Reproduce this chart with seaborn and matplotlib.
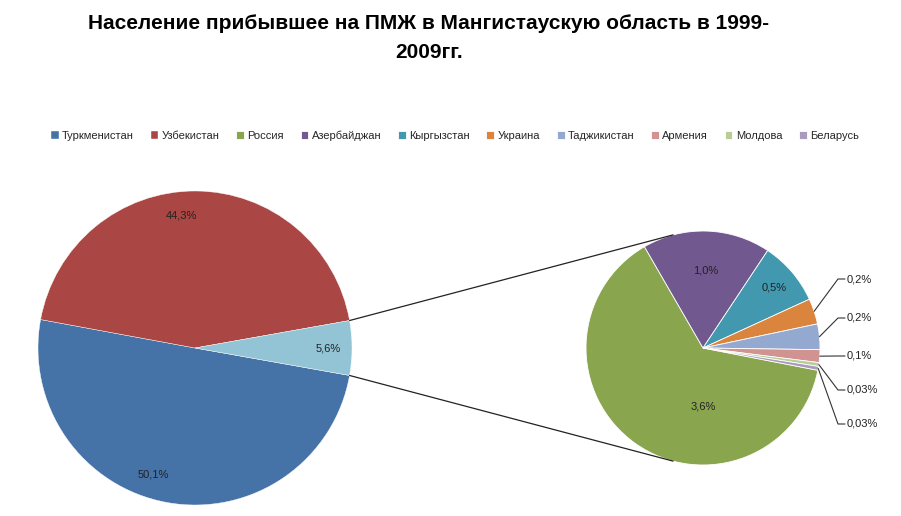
import numpy as np
import matplotlib
matplotlib.use("Agg")
import matplotlib.pyplot as plt
import seaborn as sns

# data
main_labels = ["Туркменистан", "Узбекистан", "Другие"]
main_values = [50.1, 44.3, 5.6]
sub_labels = ["Россия", "Азербайджан", "Кыргызстан", "Украина", "Таджикистан",
              "Армения", "Молдова", "Беларусь"]
sub_values = [3.6, 1.0, 0.5, 0.2, 0.2, 0.1, 0.03, 0.03]

main_colors = ["#4572A7", "#AA4643", "#93C4D6"]
sub_colors = ["#89A54E", "#71588F", "#4198AF", "#DB843D", "#93A9CF",
              "#D19392", "#B9CD96", "#A99BBD"]

title = "Население прибывшее на ПМЖ в Мангистаускую область в 1999-\n2009гг."

sns.set_theme(style="white")
plt.rcParams["font.family"] = ["Liberation Sans", "DejaVu Sans"]

W, H = 901, 516
fig = plt.figure(figsize=(W / 100, H / 100), dpi=100)
ax = fig.add_axes([0, 0, 1, 1])

# layout in pixel units (y measured upward)
c1, r1 = (195, H - 348), 157
c2, r2 = (703, H - 348), 117


def fmt(v):
    return (f"{v:.2f}" if v < 0.1 else f"{v:.1f}").replace(".", ",") + "%"


# main pie, "other" slice centred on the right
start1 = -main_values[2] / sum(main_values) * 360 / 2
w1, _ = ax.pie(main_values, colors=main_colors, center=c1, radius=r1,
               startangle=start1, counterclock=False, frame=True,
               wedgeprops=dict(edgecolor="white", linewidth=0.3))
main_shift = [-8, 6, 0]  # Excel nudges these labels a little
for w, v, s in zip(w1, main_values, main_shift):
    a = np.deg2rad((w.theta1 + w.theta2) / 2 + s)
    ax.text(c1[0] + 0.85 * r1 * np.cos(a), c1[1] + 0.85 * r1 * np.sin(a), fmt(v),
            ha="center", va="center", fontsize=8, color="#222222")

# secondary pie
w2, _ = ax.pie(sub_values, colors=sub_colors, center=c2, radius=r2,
               startangle=-11, counterclock=False, frame=True,
               wedgeprops=dict(edgecolor="white", linewidth=0.6))

inner_dist = [0.5, 0.66, 0.8]
label_y = [279, 318, 356, 390, 424]
for i, (w, v) in enumerate(zip(w2, sub_values)):
    a = np.deg2rad((w.theta1 + w.theta2) / 2)
    if i < len(inner_dist):
        d = inner_dist[i]
        if i == 0:
            a = np.deg2rad(-90)
        ax.text(c2[0] + d * r2 * np.cos(a), c2[1] + d * r2 * np.sin(a), fmt(v),
                ha="center", va="center", fontsize=8, color="#222222")
    else:
        ex, ey = c2[0] + r2 * np.cos(a), c2[1] + r2 * np.sin(a)
        ly = H - label_y[i - len(inner_dist)]
        ax.plot([ex, 838, 845], [ey, ly, ly], color="#333333", lw=0.8)
        ax.text(847, ly, fmt(v), ha="left", va="center", fontsize=8, color="#222222")

# connector lines: tangents from the "other" slice edges to the secondary pie
ow = w1[2]
for ang in [ow.theta1, ow.theta2]:
    px = c1[0] + r1 * np.cos(np.deg2rad(ang))
    py = c1[1] + r1 * np.sin(np.deg2rad(ang))
    dx, dy = px - c2[0], py - c2[1]
    sign = -1 if dy > 0 else 1
    phi = np.arctan2(dy, dx) + sign * np.arccos(r2 / np.hypot(dx, dy))
    ax.plot([px, c2[0] + r2 * np.cos(phi)], [py, c2[1] + r2 * np.sin(phi)],
            color="#222222", lw=0.9)

ax.set_xlim(0, W)
ax.set_ylim(0, H)
ax.set_aspect("equal")
ax.axis("off")

fig.text(429 / W, 1 - 38 / H, title, ha="center", va="center", color="black",
         fontsize=15, fontweight="bold", linespacing=1.7)

handles = [w1[0], w1[1]] + list(w2)
names = main_labels[:2] + sub_labels
fig.legend(handles, names, loc="center", bbox_to_anchor=(455 / W, 1 - 136 / H),
           ncol=10, frameon=False, fontsize=8, handlelength=0.7,
           handleheight=0.7, handletextpad=0.3, columnspacing=1.5)

fig.savefig("out.png", dpi=100, facecolor="white")
